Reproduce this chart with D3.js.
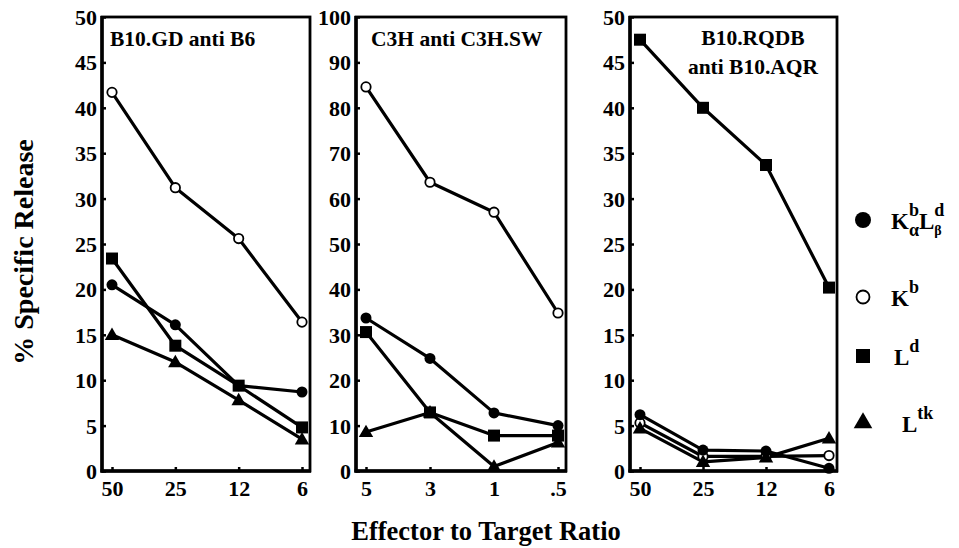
<!DOCTYPE html>
<html>
<head>
<meta charset="utf-8">
<script src="https://cdn.jsdelivr.net/npm/d3@7"></script>
<style>
  html, body { margin: 0; padding: 0; background: #fff; }
</style>
</head>
<body>
<svg id="chart" width="959" height="548"></svg>
<script>
// ---- data ----
const xCats1 = ["50", "25", "12", "6"];
const xCats2 = ["5", "3", "1", ".5"];
const xCats3 = ["50", "25", "12", "6"];

const yTicks1 = [0, 5, 10, 15, 20, 25, 30, 35, 40, 45, 50];
const yTicks2 = [0, 10, 20, 30, 40, 50, 60, 70, 80, 90, 100];
const yTicks3 = [0, 5, 10, 15, 20, 25, 30, 35, 40, 45, 50];

const titles1 = ["B10.GD anti B6"];
const titles2 = ["C3H anti C3H.SW"];
const titles3 = ["B10.RQDB", "anti B10.AQR"];

// series: KbαLdβ (filled circle), Kb (open circle), Ld (square), Ltk (triangle)
const p1_KL  = [20.5, 16.1, 9.4, 8.7];
const p1_K   = [41.7, 31.2, 25.6, 16.4];
const p1_L   = [23.4, 13.8, 9.4, 4.8];
const p1_Ltk = [15.0, 12.0, 7.8, 3.5];

const p2_KL  = [33.7, 24.8, 12.8, 10.0];
const p2_K   = [84.6, 63.6, 57.0, 34.8];
const p2_L   = [30.6, 12.9, 7.8, 7.8];
const p2_Ltk = [8.6, 12.9, 1.0, 6.3];

const p3_KL  = [6.2, 2.3, 2.2, 0.3];
const p3_K   = [5.3, 1.6, 1.6, 1.7];
const p3_L   = [47.5, 40.0, 33.7, 20.2];
const p3_Ltk = [4.7, 1.0, 1.5, 3.6];

// ---- drawing ----
const FONT = "Liberation Serif";
const svg = d3.select("#chart");
const plotTop = 17, plotBottom = 471;

const panels = [
  { x0: 102, x1: 310, cats: xCats1, ticks: yTicks1, titles: titles1, tx: 110, anchor: "start",
    series: [p1_K, p1_KL, p1_L, p1_Ltk] },
  { x0: 356, x1: 566, cats: xCats2, ticks: yTicks2, titles: titles2, tx: 371, anchor: "start",
    series: [p2_K, p2_KL, p2_L, p2_Ltk] },
  { x0: 630, x1: 837, cats: xCats3, ticks: yTicks3, titles: titles3, tx: 753, anchor: "middle",
    series: [p3_L, p3_K, p3_Ltk, p3_KL] }
];
const seriesKinds = [
  ["open", "filled", "square", "triangle"],
  ["open", "filled", "square", "triangle"],
  ["square", "open", "triangle", "filled"]
];

function drawMarker(g, kind, x, y) {
  if (kind === "filled") {
    g.append("circle").attr("cx", x).attr("cy", y).attr("r", 5.5).attr("fill", "#000");
  } else if (kind === "open") {
    g.append("circle").attr("cx", x).attr("cy", y).attr("r", 4.7)
      .attr("fill", "#fff").attr("stroke", "#000").attr("stroke-width", 1.8);
  } else if (kind === "square") {
    g.append("rect").attr("x", x - 6).attr("y", y - 6).attr("width", 12).attr("height", 12).attr("fill", "#000");
  } else if (kind === "triangle") {
    g.append("path").attr("d", d3.symbol(d3.symbolTriangle, 90)()).attr("transform", `translate(${x},${y + 1})`).attr("fill", "#000");
  }
}

panels.forEach((p, pi) => {
  const g = svg.append("g");
  const x = d3.scalePoint().domain(p.cats).range([p.x0 + 10, p.x1 - 8]).padding(0);
  const yMax = p.ticks[p.ticks.length - 1];
  const y = d3.scaleLinear().domain([0, yMax]).range([plotBottom, plotTop]);

  // frame
  g.append("rect").attr("x", p.x0).attr("y", plotTop).attr("width", p.x1 - p.x0).attr("height", plotBottom - plotTop)
    .attr("fill", "none").attr("stroke", "#000").attr("stroke-width", 2.8);
  g.append("line").attr("x1", p.x0).attr("x2", p.x0).attr("y1", plotTop - 1).attr("y2", plotBottom + 1.5)
    .attr("stroke", "#000").attr("stroke-width", 3.5);
  g.append("line").attr("x1", p.x0 - 1.5).attr("x2", p.x1 + 1).attr("y1", plotBottom).attr("y2", plotBottom)
    .attr("stroke", "#000").attr("stroke-width", 3.5);

  // y axis
  const yAxis = d3.axisLeft(y).tickValues(p.ticks).tickSize(-4).tickPadding(5).tickFormat(d3.format("d"));
  const ya = g.append("g").attr("transform", `translate(${p.x0},0)`).call(yAxis);
  ya.select(".domain").remove();
  ya.selectAll(".tick line").attr("stroke", "#000").attr("stroke-width", 2.5);
  ya.selectAll("text").attr("dy", "0.34em");

  // x axis
  const xAxis = d3.axisBottom(x).tickSize(-4).tickPadding(9);
  const xa = g.append("g").attr("transform", `translate(0,${plotBottom})`).call(xAxis);
  xa.select(".domain").remove();
  xa.selectAll(".tick line").attr("stroke", "#000").attr("stroke-width", 2.5);
  xa.selectAll("text").attr("dy", "0.72em");

  [ya, xa].forEach(a => a.attr("font-family", FONT).attr("font-size", 22).attr("font-weight", "bold")
    .selectAll("text").style("font-family", FONT).style("font-size", "22px").style("font-weight", "bold").attr("fill", "#000"));

  // title
  p.titles.forEach((t, i) => {
    g.append("text").attr("x", p.tx).attr("y", 46 + i * 29 - (p.titles.length > 1 ? 1 : 0))
      .attr("text-anchor", p.anchor)
      .style("font-family", FONT).style("font-weight", "bold").style("font-size", "21.5px").text(t);
  });

  // lines
  const line = d3.line().x((d, i) => x(p.cats[i])).y(d => y(d));
  p.series.forEach(s => {
    g.append("path").datum(s).attr("d", line).attr("fill", "none")
      .attr("stroke", "#000").attr("stroke-width", 3.2).attr("stroke-linejoin", "round");
  });
  // markers
  p.series.forEach((s, si) => {
    s.forEach((v, i) => drawMarker(g, seriesKinds[pi][si], x(p.cats[i]), y(v)));
  });
});

// axis titles
svg.append("text").attr("transform", "translate(33,252) rotate(-90)").attr("text-anchor", "middle")
  .style("font-family", FONT).style("font-weight", "bold").style("font-size", "28px").text("% Specific Release");
svg.append("text").attr("x", 486).attr("y", 540).attr("text-anchor", "middle")
  .style("font-family", FONT).style("font-weight", "bold").style("font-size", "26.5px").text("Effector to Target Ratio");

// legend
const leg = svg.append("g");
const legY = [220, 297, 356, 422];
const legKinds = ["filled", "open", "square", "triangle"];
legKinds.forEach((k, i) => {
  if (k === "open") {
    leg.append("circle").attr("cx", 863).attr("cy", legY[i]).attr("r", 6.5)
      .attr("fill", "#fff").attr("stroke", "#000").attr("stroke-width", 1.8);
  } else if (k === "filled") {
    leg.append("circle").attr("cx", 863).attr("cy", legY[i]).attr("r", 8).attr("fill", "#000");
  } else if (k === "square") {
    leg.append("rect").attr("x", 856).attr("y", legY[i] - 7).attr("width", 14).attr("height", 14).attr("fill", "#000");
  } else {
    leg.append("path").attr("d", d3.symbol(d3.symbolTriangle, 150)()).attr("transform", `translate(863,${legY[i] + 1})`).attr("fill", "#000");
  }
});
function legText(x, y) {
  return leg.append("text").attr("x", x).attr("y", y)
    .style("font-family", FONT).style("font-weight", "bold").style("font-size", "23px");
}
// K^b_α L^d_β
(function () {
  const t = legText(891, 229);
  t.append("tspan").text("K");
  t.append("tspan").attr("dy", -13).style("font-size", "18px").text("b");
  t.append("tspan").attr("dx", -10).attr("dy", 20).style("font-size", "18px").text("α");
  t.append("tspan").attr("dy", -7).text("L");
  t.append("tspan").attr("dy", -13).style("font-size", "18px").text("d");
  t.append("tspan").attr("dx", -10).attr("dy", 19).style("font-size", "14px").text("β");
})();
(function () {
  const t = legText(891, 306);
  t.append("tspan").text("K");
  t.append("tspan").attr("dy", -13).style("font-size", "18px").text("b");
})();
(function () {
  const t = legText(894, 365);
  t.append("tspan").text("L");
  t.append("tspan").attr("dy", -13).style("font-size", "18px").text("d");
})();
(function () {
  const t = legText(902, 432);
  t.append("tspan").text("L");
  t.append("tspan").attr("dy", -13).style("font-size", "18px").text("tk");
})();
</script>
</body>
</html>
